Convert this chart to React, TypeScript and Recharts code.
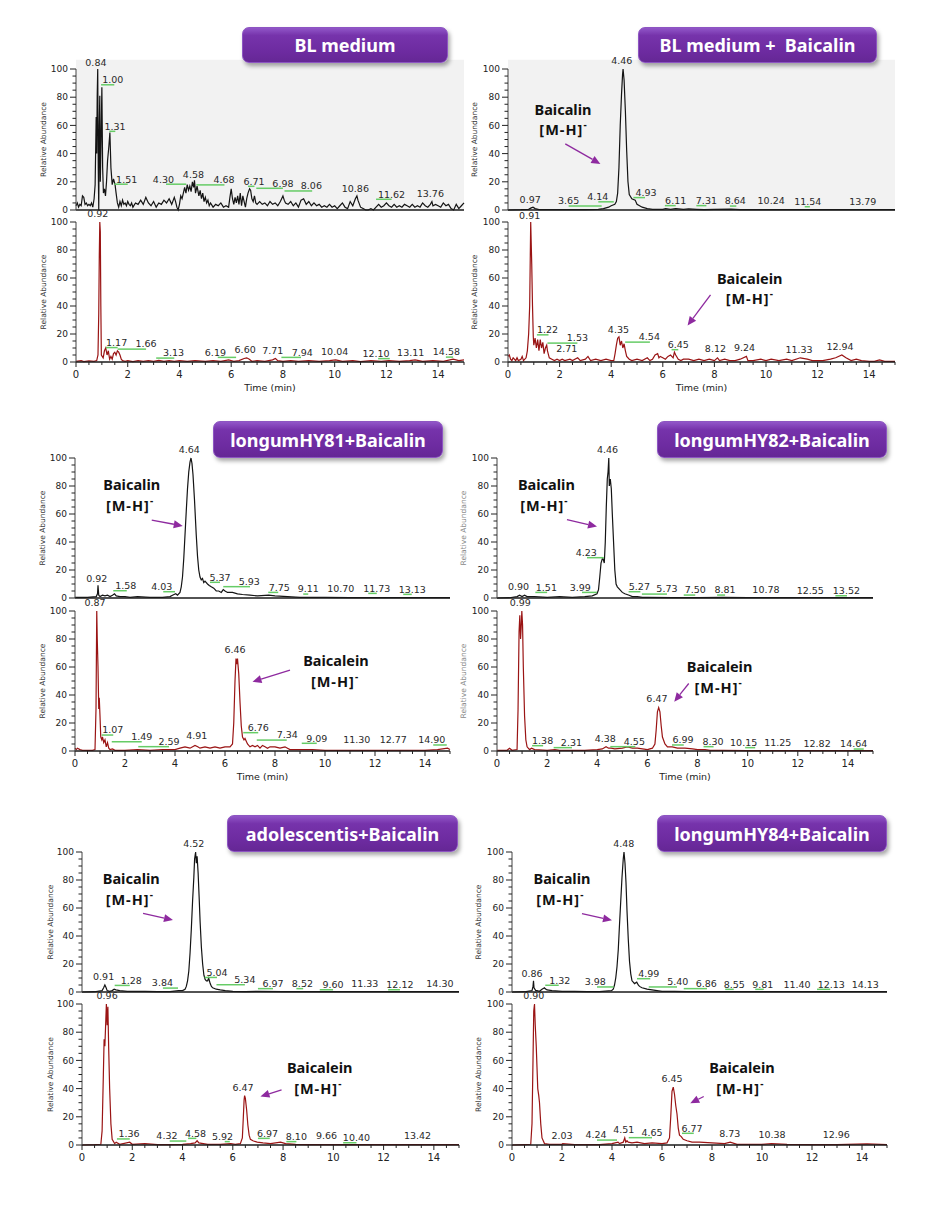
import React from 'react'
import { ComposedChart, Line, XAxis, YAxis, ReferenceDot, ReferenceLine, ReferenceArea } from 'recharts'

type Pt = [number, number]
// [peak time, label x, label baseline y, green leader from, green leader to]
type Peak = [number, number, number, number?, number?]
type Note = { name: string; x: number; y: number; ionX: number; ionY: number; arrow: [number, number, number, number] }

const xMajor = [0, 2, 4, 6, 8, 10, 12, 14]
const xTicks = Array.from({ length: 31 }, (_, i) => i / 2)
const yMajor = [0, 20, 40, 60, 80, 100]
const yTicks = Array.from({ length: 21 }, (_, i) => i * 5)

// ---- BL medium ----
const blTop: Pt[] = [
  [0, 3], [0.05, 5], [0.1, 2], [0.15, 4], [0.2, 3], [0.25, 10], [0.3, 9], [0.35, 4], [0.4, 5], [0.45, 3], [0.5, 4], [0.55, 3], [0.6, 5], [0.65, 2],
  [0.7, 8], [0.74, 18], [0.78, 66], [0.8, 40], [0.82, 81], [0.84, 100], [0.86, 30], [0.88, 0], [0.9, 60], [0.92, 81], [0.94, 20], [0.97, 50],
  [1.0, 87], [1.03, 30], [1.06, 12], [1.1, 15], [1.14, 10], [1.18, 20], [1.22, 35], [1.27, 45], [1.31, 55], [1.35, 30], [1.4, 18], [1.45, 22],
  [1.51, 18], [1.55, 12], [1.6, 5], [1.65, 2], [1.7, 6], [1.75, 3], [1.8, 7], [1.85, 4], [1.9, 5], [1.95, 3], [2.0, 6], [2.05, 4], [2.1, 3],
  [2.15, 5], [2.2, 2], [2.3, 5], [2.4, 4], [2.5, 7], [2.6, 4], [2.7, 9], [2.75, 7], [2.8, 5], [2.9, 3], [3.0, 6], [3.1, 2], [3.2, 5], [3.3, 4],
  [3.4, 7], [3.5, 5], [3.6, 8], [3.7, 4], [3.8, 9], [3.85, 6], [3.9, 2], [3.95, 0], [4.0, 4], [4.05, 10], [4.1, 8], [4.15, 12], [4.2, 16],
  [4.25, 12], [4.3, 18], [4.35, 14], [4.4, 17], [4.45, 13], [4.5, 20], [4.55, 16], [4.58, 21], [4.62, 12], [4.68, 17], [4.75, 10], [4.8, 14],
  [4.85, 8], [4.9, 12], [4.95, 6], [5.0, 9], [5.05, 5], [5.1, 7], [5.15, 3], [5.2, 5], [5.3, 2], [5.4, 4], [5.5, 3], [5.6, 5], [5.7, 2],
  [5.8, 3], [5.9, 2], [5.95, 9], [6.0, 15], [6.05, 8], [6.1, 4], [6.15, 9], [6.2, 5], [6.25, 10], [6.3, 4], [6.35, 12], [6.4, 3], [6.45, 10],
  [6.5, 6], [6.55, 2], [6.6, 8], [6.65, 12], [6.71, 15], [6.75, 14], [6.8, 8], [6.85, 6], [6.9, 10], [6.95, 5], [7.0, 4], [7.1, 6], [7.2, 4],
  [7.3, 5], [7.4, 3], [7.5, 6], [7.6, 4], [7.7, 5], [7.8, 3], [7.9, 6], [7.95, 8], [8.0, 10], [8.05, 7], [8.1, 5], [8.2, 4], [8.3, 6], [8.4, 3],
  [8.5, 5], [8.6, 2], [8.7, 7], [8.8, 8], [8.85, 6], [8.9, 4], [9.0, 6], [9.1, 3], [9.2, 5], [9.3, 3], [9.4, 4], [9.5, 2], [9.6, 3], [9.7, 2],
  [9.8, 4], [9.9, 2], [10.0, 3], [10.1, 1], [10.2, 3], [10.3, 5], [10.4, 2], [10.5, 1], [10.6, 6], [10.7, 3], [10.8, 8], [10.86, 10], [10.9, 7],
  [11.0, 2], [11.1, 1], [11.2, 0], [11.3, 0], [11.4, 1], [11.5, 0], [11.6, 2], [11.7, 4], [11.8, 2], [11.9, 3], [12.0, 5], [12.1, 3], [12.2, 2],
  [12.3, 4], [12.4, 2], [12.5, 3], [12.6, 2], [12.7, 4], [12.8, 3], [12.9, 2], [13.0, 4], [13.1, 2], [13.2, 3], [13.3, 2], [13.4, 5], [13.5, 3],
  [13.6, 2], [13.7, 4], [13.76, 6], [13.8, 3], [13.9, 4], [14.0, 3], [14.1, 2], [14.2, 5], [14.3, 3], [14.4, 4], [14.5, 1], [14.6, 0], [14.7, 4],
  [14.8, 1], [14.9, 3], [15, 5],
]
const blBot: Pt[] = [
  [0, 0.5], [0.2, 1], [0.3, 0.3], [0.5, 0.8], [0.7, 0.5], [0.8, 1], [0.85, 5], [0.88, 35], [0.9, 75], [0.92, 100], [0.94, 93], [0.96, 40],
  [0.98, 5], [1.05, 3], [1.1, 8], [1.15, 10], [1.2, 5], [1.25, 8], [1.3, 2], [1.35, 4], [1.4, 2], [1.45, 6], [1.5, 7], [1.55, 5], [1.6, 8],
  [1.65, 7], [1.7, 5], [1.75, 2], [1.8, 1], [1.9, 0.5], [2.0, 1], [2.2, 0.3], [2.4, 1], [2.6, 0.4], [2.8, 1], [3.0, 0.5], [3.2, 1.2], [3.4, 0.5],
  [3.6, 1], [3.8, 0.4], [4.0, 1], [4.3, 0.5], [4.6, 1], [5.0, 0.5], [5.3, 1], [5.6, 0.5], [5.9, 1.5], [6.1, 0.5], [6.3, 1], [6.5, 2.5], [6.6, 3],
  [6.7, 2], [6.8, 0.5], [7.0, 1], [7.3, 0.5], [7.6, 1.5], [7.71, 2.5], [7.8, 1], [8.0, 0.5], [8.3, 1], [8.6, 0.5], [9.0, 1], [9.4, 0.5], [9.8, 1],
  [10.04, 1.5], [10.3, 0.5], [10.7, 1], [11.0, 0.3], [11.4, 1], [11.8, 0.5], [12.1, 1], [12.5, 0.5], [12.9, 1], [13.11, 1.5], [13.4, 0.5],
  [13.8, 1], [14.2, 0.5], [14.58, 2], [14.8, 1], [15, 1.5],
]
const blTopPeaks: Peak[] = [
  [0.84, 0.77, 102], [1.0, 1.42, 90, 0.97, 1.48], [1.31, 1.51, 57, 1.29, 1.52], [1.51, 1.96, 19.5, 1.48, 2.0], [4.3, 3.38, 19.5, 3.48, 4.26],
  [4.58, 4.54, 23], [4.68, 5.72, 19, 4.65, 5.74], [6.71, 6.88, 18, 6.65, 6.9], [6.98, 8.0, 16.6, 6.97, 8.0], [8.06, 9.1, 14.7, 8.06, 9.13],
  [10.86, 10.8, 13], [11.62, 12.2, 8.8, 11.6, 12.2], [13.76, 13.7, 9.5],
]
const blBotPeaks: Peak[] = [
  [0.92, 0.84, 103.5], [1.17, 1.57, 11.5, 1.16, 1.61], [1.66, 2.71, 10.4, 1.61, 2.71], [3.13, 3.77, 4, 3.1, 3.8], [6.19, 5.39, 4.5, 5.48, 6.19],
  [6.6, 6.54, 6.4], [7.71, 7.61, 5.7], [7.94, 8.75, 4.5, 7.94, 8.7], [10.04, 10.0, 5.2], [12.1, 11.6, 3.6, 11.68, 12.13], [13.11, 12.94, 4],
  [14.58, 14.32, 4.7, 14.3, 14.58],
]

// ---- BL medium + Baicalin ----
const bcTop: Pt[] = [
  [0, 0], [0.5, 0.2], [0.8, 0.5], [0.9, 1.5], [0.97, 2], [1.05, 1], [1.2, 0.3], [2, 0.2], [3, 0.3], [3.5, 0.5], [3.7, 1], [3.9, 2], [4.0, 3],
  [4.14, 4], [4.2, 6], [4.25, 12], [4.3, 30], [4.35, 60], [4.4, 82], [4.44, 96], [4.46, 100], [4.5, 92], [4.55, 70], [4.6, 42], [4.65, 20],
  [4.7, 11], [4.8, 8], [4.93, 7], [5.0, 4], [5.1, 3], [5.2, 2], [5.4, 1], [5.6, 0.5], [6.0, 0.5], [6.11, 1], [6.3, 0.5], [6.5, 1], [6.8, 0.5],
  [7.0, 0.8], [7.31, 0.5], [7.6, 0.3], [8.0, 0.5], [8.64, 0.6], [9, 0.3], [10, 0.3], [11, 0.2], [12, 0.2], [13, 0.2], [14, 0.2], [15, 0.2],
]
const bcBot: Pt[] = [
  [0, 4], [0.05, 5], [0.1, 2], [0.15, 1], [0.2, 3], [0.3, 1], [0.35, 3], [0.4, 1], [0.5, 2], [0.55, 4], [0.6, 1], [0.7, 3], [0.75, 8], [0.8, 20],
  [0.84, 40], [0.88, 100], [0.92, 70], [0.95, 40], [0.98, 18], [1.0, 12], [1.05, 17], [1.1, 10], [1.15, 16], [1.2, 8], [1.25, 16], [1.3, 10],
  [1.35, 14], [1.4, 6], [1.45, 10], [1.5, 12], [1.53, 8], [1.6, 3], [1.7, 2], [1.8, 1], [1.9, 2], [2.0, 1], [2.1, 2], [2.2, 1], [2.4, 2], [2.5, 1],
  [2.7, 3], [2.75, 2], [2.8, 1], [3.0, 2], [3.1, 4], [3.2, 1], [3.4, 2], [3.6, 1], [3.8, 2], [4.0, 1], [4.1, 1], [4.15, 6], [4.2, 12], [4.25, 17],
  [4.3, 18], [4.35, 12], [4.4, 15], [4.45, 10], [4.5, 13], [4.55, 8], [4.6, 4], [4.7, 2], [4.8, 1], [5.0, 2], [5.2, 1], [5.4, 3], [5.5, 1],
  [5.6, 2], [5.7, 5], [5.8, 6], [5.85, 3], [5.9, 4], [6.0, 3], [6.1, 2], [6.2, 4], [6.3, 5], [6.4, 3], [6.45, 7], [6.5, 5], [6.6, 2], [6.7, 1],
  [6.8, 2], [7.0, 2], [7.2, 1], [7.4, 2], [7.6, 1], [7.8, 2], [8.0, 1], [8.12, 3], [8.2, 1], [8.4, 2], [8.6, 1], [8.8, 1], [9.0, 2], [9.24, 4],
  [9.3, 1], [9.5, 1], [9.8, 2], [10.0, 1], [10.2, 2], [10.5, 1], [10.8, 2], [11.0, 1], [11.33, 3], [11.6, 2], [11.8, 1], [12.0, 1], [12.2, 1],
  [12.5, 2], [12.7, 3], [12.94, 5], [13.1, 3], [13.3, 1], [13.5, 2], [13.7, 1], [14.0, 0.5], [14.2, 0.5], [14.4, 1.5], [14.6, 0.5], [15, 0.5],
]
const bcTopPeaks: Peak[] = [
  [0.97, 0.86, 4.7], [3.65, 2.35, 4, 2.35, 3.63], [4.14, 3.48, 7, 3.5, 4.1], [4.46, 4.41, 103.5], [4.93, 5.35, 10, 4.86, 5.31],
  [6.11, 6.5, 4.3, 6.08, 6.5], [7.31, 7.69, 4.3, 7.3, 7.69], [8.64, 8.81, 4, 8.6, 8.85], [10.24, 10.2, 4], [11.54, 11.62, 3.5, 11.5, 11.7],
  [13.79, 13.75, 3.5],
]
const bcBotPeaks: Peak[] = [
  [0.91, 0.84, 102.4], [1.22, 1.53, 20.6, 1.12, 1.57], [1.53, 2.69, 14.7, 1.53, 2.69], [2.71, 2.28, 6.9], [4.35, 4.28, 20.6],
  [4.54, 5.48, 15.4, 4.54, 5.5], [6.45, 6.6, 10, 6.34, 6.6], [8.12, 8.04, 7], [9.24, 9.17, 8], [11.33, 11.28, 6.4], [12.94, 12.87, 8.8],
]
const bcTopNote: Note = { name: 'Baicalin', x: 2.13, y: 67.5, ionX: 2.15, ionY: 53.3, arrow: [2.22, 46.9, 3.58, 32.7] }
const bcBotNote: Note = { name: 'Baicalein', x: 9.37, y: 56, ionX: 9.37, ionY: 41.5, arrow: [7.85, 48, 6.96, 26] }

// ---- longumHY81 + Baicalin ----
const h81Top: Pt[] = [
  [0, 0.5], [0.5, 0.5], [0.85, 1], [0.9, 3], [0.92, 9], [0.95, 2], [1.0, 1], [1.1, 2], [1.2, 1.5], [1.3, 2], [1.4, 1], [1.5, 2], [1.58, 3],
  [1.65, 1.5], [1.8, 1], [2.0, 1], [2.2, 0.5], [2.5, 1], [3.0, 0.5], [3.5, 0.5], [3.8, 1], [3.9, 2], [4.03, 3], [4.1, 2], [4.2, 4], [4.25, 8],
  [4.3, 15], [4.35, 28], [4.4, 45], [4.45, 62], [4.5, 78], [4.55, 90], [4.6, 97], [4.64, 100], [4.68, 96], [4.72, 88], [4.78, 70], [4.85, 45],
  [4.9, 30], [4.95, 20], [5.0, 15], [5.05, 13], [5.1, 14], [5.15, 11], [5.2, 12], [5.3, 10], [5.37, 9], [5.45, 8], [5.55, 7], [5.65, 5],
  [5.75, 5], [5.85, 4], [5.93, 6], [6.0, 5], [6.1, 4], [6.3, 4], [6.5, 3], [6.7, 2.5], [7.0, 2], [7.3, 1.5], [7.75, 2], [8.0, 1.5], [8.5, 1],
  [9.0, 0.5], [10, 0.5], [11, 0.3], [12, 0.3], [13, 0.3], [14, 0.2], [15, 0.2],
]
const h81Bot: Pt[] = [
  [0, 2], [0.05, 1], [0.1, 2], [0.2, 1], [0.3, 0.5], [0.5, 0.5], [0.7, 0.5], [0.8, 1], [0.84, 30], [0.87, 100], [0.89, 80], [0.92, 60],
  [0.95, 30], [0.97, 38], [1.0, 25], [1.03, 10], [1.07, 8], [1.1, 10], [1.15, 6], [1.2, 8], [1.25, 3], [1.3, 6], [1.35, 2], [1.4, 1], [1.5, 1.5],
  [1.6, 0.5], [2.0, 0.5], [2.5, 1], [3.0, 0.5], [3.5, 1], [4.0, 1], [4.2, 2], [4.4, 3], [4.6, 2], [4.8, 4], [4.91, 3], [5.0, 2], [5.2, 3],
  [5.4, 2], [5.6, 3], [5.8, 2], [6.0, 3], [6.2, 3], [6.3, 5], [6.35, 20], [6.4, 50], [6.44, 66], [6.47, 62], [6.5, 66], [6.55, 55], [6.6, 35],
  [6.65, 18], [6.7, 10], [6.76, 8], [6.8, 9], [6.9, 5], [7.0, 3], [7.1, 4], [7.2, 3], [7.3, 4], [7.4, 2], [7.5, 4], [7.6, 3], [7.7, 2], [7.8, 3],
  [8.0, 3], [8.2, 2], [8.4, 3], [8.5, 2], [8.6, 1], [9.0, 1], [9.5, 1], [10.0, 0.5], [11.0, 0.5], [12.0, 0.5], [13.0, 0.5], [14.0, 0.5],
  [14.5, 1], [14.9, 2], [15, 1],
]
const h81TopPeaks: Peak[] = [
  [0.92, 0.87, 11.6], [1.58, 2.03, 6.4, 1.53, 2.07], [4.03, 3.47, 5.7, 3.53, 4.0], [4.64, 4.57, 103.5], [5.37, 5.8, 12.4, 5.4, 5.8],
  [5.93, 6.97, 9.3, 5.93, 7.0], [7.75, 8.17, 5.2, 7.73, 8.13], [9.11, 9.33, 4, 9.13, 9.33], [10.7, 10.63, 4.5], [11.73, 12.07, 4.5, 11.73, 12.07],
  [13.13, 13.49, 3.8, 13.13, 13.47],
]
const h81BotPeaks: Peak[] = [
  [0.87, 0.8, 103.6], [1.07, 1.51, 12.6, 1.07, 1.53], [1.49, 2.67, 7.8, 1.47, 2.67], [2.59, 3.76, 4.3, 2.53, 3.76], [4.91, 4.87, 8.6],
  [6.46, 6.4, 70], [6.76, 7.33, 14.3, 6.73, 7.33], [7.34, 8.49, 9, 7.27, 8.47], [9.09, 9.67, 6.7, 9.07, 9.67], [11.3, 11.27, 6],
  [12.77, 12.73, 5.5], [14.9, 14.27, 5.5, 14.33, 14.87],
]
const h81TopNote: Note = { name: 'Baicalin', x: 2.27, y: 77, ionX: 2.2, ionY: 62.5, arrow: [3.07, 55.6, 4.31, 51.5] }
const h81BotNote: Note = { name: 'Baicalein', x: 10.44, y: 60.5, ionX: 10.4, ionY: 45.8, arrow: [8.6, 57.7, 7.1, 49.4] }

// ---- longumHY82 + Baicalin ----
const h82Top: Pt[] = [
  [0, 0], [0.5, 0.2], [0.8, 1], [0.9, 2], [1.0, 1], [1.1, 2], [1.2, 1], [1.5, 1], [2.0, 0.5], [2.5, 1], [3.0, 0.5], [3.5, 1], [3.8, 1.5],
  [3.99, 3], [4.05, 6], [4.1, 15], [4.15, 25], [4.2, 28], [4.23, 28], [4.28, 25], [4.32, 40], [4.36, 65], [4.4, 85], [4.43, 90], [4.46, 100],
  [4.48, 80], [4.52, 85], [4.56, 78], [4.6, 60], [4.65, 40], [4.7, 20], [4.75, 10], [4.8, 8], [4.9, 6], [5.0, 4], [5.1, 3], [5.27, 2], [5.4, 1],
  [5.6, 1], [5.8, 0.5], [6.0, 0.5], [7, 0.3], [8, 0.3], [9, 0.5], [10, 0.2], [12, 0.2], [15, 0.2],
]
const h82Bot: Pt[] = [
  [0, 0.5], [0.4, 0.5], [0.5, 2], [0.6, 0.5], [0.8, 1], [0.84, 30], [0.88, 85], [0.91, 97], [0.94, 80], [0.97, 90], [0.99, 100], [1.02, 90],
  [1.05, 60], [1.1, 25], [1.15, 8], [1.2, 3], [1.3, 1], [1.38, 2], [1.5, 1], [2.0, 0.5], [2.31, 1], [2.5, 0.5], [3.0, 0.5], [3.5, 0.5], [4.0, 1],
  [4.2, 1.5], [4.35, 3], [4.45, 2], [4.55, 2], [4.7, 1.5], [5.0, 2], [5.2, 3], [5.4, 2], [5.6, 2], [5.8, 1.5], [6.0, 1], [6.2, 2], [6.3, 5],
  [6.35, 15], [6.4, 28], [6.45, 31], [6.5, 28], [6.55, 18], [6.6, 10], [6.7, 5], [6.8, 3], [6.99, 3], [7.2, 2], [7.5, 2], [7.8, 1.5], [8.0, 1],
  [8.3, 1], [8.5, 0.5], [9, 0.5], [10, 0.3], [11, 0.3], [12, 0.3], [13, 0.3], [14, 0.3], [15, 0.3],
]
const h82TopPeaks: Peak[] = [
  [0.9, 0.86, 5.7], [1.51, 1.97, 5.2, 1.53, 2.0], [3.99, 3.32, 5.2, 3.39, 3.99], [4.23, 3.56, 30, 3.59, 4.26], [4.46, 4.41, 103.5],
  [5.27, 5.68, 5.7, 5.25, 5.72], [5.73, 6.78, 4, 5.78, 6.78], [7.5, 7.91, 3.3, 7.45, 7.91], [8.81, 9.1, 3.3, 8.78, 9.1], [10.78, 10.73, 3.3],
  [12.55, 12.5, 2.8], [13.52, 13.94, 2.8, 13.5, 13.96],
]
const h82BotPeaks: Peak[] = [
  [0.99, 0.93, 103.6], [1.38, 1.82, 5, 1.4, 1.84], [2.31, 2.97, 3.6, 2.26, 2.99], [4.38, 4.32, 6.7], [4.55, 5.48, 4.3, 4.52, 5.52],
  [6.47, 6.38, 35], [6.99, 7.42, 5.5, 6.98, 7.45], [8.3, 8.62, 4.3, 8.24, 8.64], [10.15, 9.84, 3.6, 9.9, 10.3], [11.25, 11.2, 3.6],
  [12.82, 12.77, 2.6], [14.64, 14.23, 2.6, 14.23, 14.63],
]
const h82TopNote: Note = { name: 'Baicalin', x: 1.97, y: 77, ionX: 1.89, ionY: 62.5, arrow: [2.79, 56, 3.99, 51] }
const h82BotNote: Note = { name: 'Baicalein', x: 8.88, y: 56.5, ionX: 8.84, ionY: 41.5, arrow: [7.65, 48.2, 7.07, 35.2] }

// ---- adolescentis + Baicalin ----
const adoTop: Pt[] = [
  [0, 0], [0.5, 0.2], [0.8, 1], [0.86, 3], [0.91, 5], [0.96, 3], [1.0, 1], [1.1, 0.5], [1.2, 1], [1.28, 2], [1.35, 1.5], [1.5, 1], [1.8, 0.5],
  [2.5, 0.5], [3.0, 0.3], [3.5, 0.3], [3.84, 1], [4.0, 1], [4.1, 2], [4.15, 4], [4.2, 8], [4.25, 15], [4.3, 28], [4.35, 45], [4.4, 65],
  [4.45, 82], [4.48, 95], [4.52, 100], [4.55, 92], [4.58, 97], [4.62, 85], [4.66, 68], [4.7, 50], [4.75, 32], [4.8, 20], [4.85, 12], [4.9, 9],
  [4.95, 8], [5.0, 8], [5.04, 10], [5.1, 6], [5.15, 4], [5.2, 3], [5.34, 2], [5.5, 1.5], [5.7, 1], [6.0, 0.5], [6.5, 0.3], [7, 0.5], [8, 0.3],
  [9, 0.2], [10, 0.2], [12, 0.2], [15, 0.2],
]
const adoBot: Pt[] = [
  [0, 0], [0.5, 0.2], [0.75, 0.5], [0.8, 10], [0.85, 50], [0.88, 75], [0.91, 70], [0.94, 85], [0.97, 100], [1.0, 85], [1.03, 98], [1.06, 70],
  [1.1, 40], [1.15, 15], [1.2, 4], [1.3, 1], [1.36, 2], [1.5, 0.5], [1.9, 2], [2.0, 0.5], [2.5, 1], [3.0, 0.3], [3.5, 0.3], [4.0, 0.5],
  [4.32, 1], [4.5, 1.5], [4.58, 3], [4.65, 1.5], [5.0, 0.5], [5.5, 0.5], [5.92, 1], [6.1, 0.5], [6.3, 1], [6.38, 5], [6.42, 20], [6.45, 32],
  [6.47, 35], [6.5, 33], [6.55, 25], [6.6, 14], [6.65, 7], [6.7, 4], [6.8, 3], [6.97, 2], [7.2, 1.5], [7.5, 1], [7.9, 2], [8.1, 1], [8.5, 0.5],
  [9, 0.3], [10, 0.3], [12, 0.2], [15, 0.2],
]
const adoTopPeaks: Peak[] = [
  [0.91, 0.86, 8.8], [1.28, 1.96, 5.9, 1.3, 1.9], [3.84, 3.2, 4, 3.22, 3.82], [4.52, 4.45, 103.3], [5.04, 5.37, 11.6, 4.88, 5.37],
  [5.34, 6.48, 6.4, 5.35, 6.48], [6.97, 7.6, 3.6, 7.0, 7.6], [8.52, 8.77, 3.6, 8.53, 8.8], [9.6, 9.99, 2.8, 9.46, 9.99], [11.33, 11.25, 3.6],
  [12.12, 12.65, 2.8, 12.18, 12.65], [14.3, 14.24, 3.6],
]
const adoBotPeaks: Peak[] = [
  [0.96, 1.0, 103.5], [1.36, 1.87, 5.5, 1.39, 1.9], [4.32, 3.38, 4, 3.49, 4.15], [4.58, 4.52, 5.9, 4.22, 4.55], [5.92, 5.59, 3.6, 5.68, 5.88],
  [6.47, 6.41, 38.6], [6.97, 7.38, 5.9, 7.0, 7.47], [8.1, 8.53, 3.6, 8.13, 8.53], [9.66, 9.73, 4], [10.4, 10.92, 2.8, 10.39, 10.92],
  [13.42, 13.35, 4],
]
const adoTopNote: Note = { name: 'Baicalin', x: 1.96, y: 77, ionX: 1.9, ionY: 62.5, arrow: [2.43, 56.2, 3.62, 51.4] }
const adoBotNote: Note = { name: 'Baicalein', x: 9.46, y: 51, ionX: 9.4, ionY: 36.5, arrow: [7.94, 39.1, 7.1, 34.4] }

// ---- longumHY84 + Baicalin ----
const h84Top: Pt[] = [
  [0, 0], [0.5, 0.2], [0.8, 1], [0.84, 4], [0.86, 8], [0.88, 3], [0.95, 1], [1.0, 1], [1.1, 0.5], [1.2, 2], [1.3, 3], [1.32, 2.5], [1.4, 1.5],
  [1.6, 1], [2.0, 0.5], [2.5, 0.5], [3.0, 0.3], [3.5, 0.3], [3.98, 1], [4.05, 2], [4.1, 5], [4.15, 10], [4.2, 18], [4.25, 30], [4.3, 48],
  [4.35, 65], [4.4, 82], [4.45, 95], [4.48, 100], [4.52, 92], [4.56, 78], [4.6, 58], [4.65, 38], [4.7, 22], [4.75, 13], [4.8, 8], [4.85, 7],
  [4.9, 6], [4.99, 7], [5.05, 5], [5.1, 4], [5.2, 3], [5.4, 2], [5.6, 1.5], [5.8, 1], [6.0, 0.5], [6.5, 0.4], [7, 0.3], [8, 0.2], [9, 0.3],
  [10, 0.2], [12, 0.2], [15, 0.2],
]
const h84Bot: Pt[] = [
  [0, 0], [0.5, 0.3], [0.75, 0.5], [0.8, 15], [0.84, 60], [0.87, 95], [0.9, 100], [0.93, 85], [0.97, 70], [1.0, 55], [1.03, 40], [1.07, 35],
  [1.1, 30], [1.15, 15], [1.2, 5], [1.3, 1], [1.5, 0.5], [2.0, 0.5], [2.03, 1], [2.5, 0.3], [3.0, 0.3], [3.5, 0.3], [4.0, 1], [4.24, 2],
  [4.3, 1], [4.45, 2], [4.51, 5], [4.55, 2], [4.6, 3], [4.65, 2], [4.8, 1.5], [5.0, 2], [5.3, 1], [5.6, 1.5], [6.0, 1], [6.2, 1.5], [6.3, 5],
  [6.35, 20], [6.4, 38], [6.45, 41], [6.5, 36], [6.55, 28], [6.6, 22], [6.65, 12], [6.7, 7], [6.77, 6], [6.85, 4], [7.0, 3], [7.2, 2],
  [7.5, 2], [8.0, 1.5], [8.5, 1], [8.73, 2], [9.0, 0.5], [9.5, 0.5], [10, 0.5], [10.38, 1], [11, 0.5], [12, 0.3], [13, 0.3], [14.2, 0.8],
  [15, 0.3],
]
const h84TopPeaks: Peak[] = [
  [0.86, 0.8, 10.7], [1.32, 1.91, 6, 1.33, 1.87], [3.98, 3.33, 4.8, 3.4, 4.07], [4.48, 4.47, 103.6], [4.99, 5.47, 10.7, 5.0, 5.53],
  [5.4, 6.63, 4.8, 5.47, 6.6], [6.86, 7.77, 3.6, 6.87, 7.8], [8.55, 8.89, 3.1, 8.53, 8.87], [9.81, 10.03, 3.1, 9.73, 10.07],
  [11.4, 11.4, 3.1], [12.13, 12.77, 3.1, 12.2, 12.73], [14.13, 14.13, 3.1],
]
const h84BotPeaks: Peak[] = [
  [0.9, 0.87, 103.6], [2.03, 2.0, 4], [4.24, 3.36, 4.7, 3.4, 4.2], [4.51, 4.47, 8.3], [4.65, 5.6, 6.4, 4.67, 5.6], [6.45, 6.4, 45],
  [6.77, 7.2, 9.5, 6.8, 7.27], [8.73, 8.71, 5.9], [10.38, 10.4, 4.7], [12.96, 12.97, 4.7],
]
const h84TopNote: Note = { name: 'Baicalin', x: 2.0, y: 76.9, ionX: 1.93, ionY: 62.4, arrow: [2.8, 56, 4.0, 51.2] }
const h84BotNote: Note = { name: 'Baicalein', x: 9.2, y: 51, ionX: 9.13, ionY: 36.5, arrow: [7.67, 34.4, 7.13, 29.6] }

const NUM_FONT = '"DejaVu Sans", Verdana, sans-serif'
const BLACK = '#141414'
const RED = '#9a1414'
const GREEN = '#66cc66'
const PURPLE = '#8e2a9f'

const Arrow = (p: any) => {
  const { x1, y1, x2, y2 } = p
  const a = Math.atan2(y2 - y1, x2 - x1)
  const L = 9
  const W = 4
  const bx = x2 - L * Math.cos(a)
  const by = y2 - L * Math.sin(a)
  const pts = `${x2},${y2} ${bx + W * Math.sin(a)},${by - W * Math.cos(a)} ${bx - W * Math.sin(a)},${by + W * Math.cos(a)}`
  return (
    <g>
      <line x1={x1} y1={y1} x2={bx} y2={by} stroke={PURPLE} strokeWidth={1.3} />
      <polygon points={pts} fill={PURPLE} />
    </g>
  )
}

const XTick = ({ x, y, payload, showText }: any) => {
  const v = payload.value
  const major = xMajor.includes(v)
  return (
    <g>
      <line x1={x} y1={y} x2={x} y2={y + (major ? 5 : 3)} stroke="#222" strokeWidth={1} />
      {showText && major && (
        <text x={x} y={y + 16} textAnchor="middle" fontSize={10} fontFamily={NUM_FONT} fill="#222">{v}</text>
      )}
    </g>
  )
}

const YTick = ({ x, y, payload }: any) => {
  const v = payload.value
  const major = yMajor.includes(v)
  return (
    <g>
      <line x1={x - (major ? 6 : 3.5)} y1={y} x2={x} y2={y} stroke="#222" strokeWidth={1} />
      {major && (
        <text x={x - 8} y={y + 3.2} textAnchor="end" fontSize={9} fontFamily={NUM_FONT} fill="#222">{v}</text>
      )}
    </g>
  )
}

type Geo = { l: number; r: number; t: number; b: number }

function Chromatogram(props: {
  g: Geo
  data: Pt[]
  peaks: Peak[]
  color: string
  bottomAxis?: boolean
  timeTitle?: boolean
  grey?: boolean
  yLabelX?: number
  rightLabel?: boolean
  note?: Note
}) {
  const { g, data, peaks, color, bottomAxis, timeTitle, grey, yLabelX, rightLabel, note } = props
  const YW = 48
  const MT = 16
  const MR = 20
  const XH = bottomAxis ? 36 : 8
  const width = YW + (g.r - g.l) + MR
  const height = MT + (g.b - g.t) + XH
  const rows = data.map(([x, y]) => ({ x, y }))
  const labelStyle = { fontSize: 7.5, fontFamily: NUM_FONT, fill: '#333', textAnchor: 'middle' as const }
  const noteFont = '"Noto Sans", sans-serif'

  return (
    <div style={{ position: 'absolute', left: g.l - YW, top: g.t - MT, width, height }}>
      <ComposedChart width={width} height={height} data={rows} margin={{ top: MT, right: MR, bottom: 0, left: 0 }}>
        {grey && (
          <ReferenceArea x1={0} x2={15} y1={0} y2={106.5} fill="#f2f2f2" fillOpacity={1} stroke="none" ifOverflow="visible" />
        )}
        <XAxis
          type="number"
          dataKey="x"
          domain={[0, 15]}
          ticks={xTicks}
          interval={0}
          height={XH}
          tickSize={0}
          tickMargin={0}
          tickLine={false}
          tick={bottomAxis ? (p: any) => <XTick {...p} showText /> : false}
          axisLine={{ stroke: '#1a1a1a', strokeWidth: 1.6 }}
          label={timeTitle ? { value: 'Time (min)', position: 'insideBottom', offset: 7, style: { fontSize: 9.5, fontFamily: NUM_FONT, fill: '#222' } } : undefined}
        />
        <YAxis
          type="number"
          domain={[0, 100]}
          ticks={yTicks}
          interval={0}
          width={YW}
          tickSize={0}
          tickMargin={0}
          tickLine={false}
          tick={(p: any) => <YTick {...p} />}
          axisLine={{ stroke: '#444', strokeWidth: 1 }}
          label={yLabelX != null ? { value: 'Relative Abundance', angle: -90, position: 'insideLeft', offset: yLabelX - g.l + YW, style: labelStyle } : undefined}
        />
        <Line dataKey="y" type="linear" stroke={color} strokeWidth={1.2} dot={false} activeDot={false} isAnimationActive={false} />
        {peaks.filter((p) => p[3] != null).map(([t, , ly, g1, g2]) => (
          <ReferenceLine
            key={'g' + t}
            segment={[{ x: g1 as number, y: ly - 1.2 }, { x: g2 as number, y: ly - 1.2 }]}
            stroke={GREEN}
            strokeWidth={1.5}
            ifOverflow="visible"
          />
        ))}
        {peaks.map(([t, lx, ly]) => (
          <ReferenceDot
            key={'p' + t}
            x={lx}
            y={ly}
            ifOverflow="visible"
            shape={(p: any) => (
              <text x={p.cx} y={p.cy} textAnchor="middle" fontSize={9.5} fontFamily={NUM_FONT} fill="#2a2a2a">{t.toFixed(2)}</text>
            )}
          />
        ))}
        {note && (
          <ReferenceDot
            x={note.x}
            y={note.y}
            ifOverflow="visible"
            shape={(p: any) => (
              <text x={p.cx} y={p.cy} textAnchor="middle" fontSize={14.5} fontWeight="bold" fontFamily={noteFont} fill="#111">{note.name}</text>
            )}
          />
        )}
        {note && (
          <ReferenceDot
            x={note.ionX}
            y={note.ionY}
            ifOverflow="visible"
            shape={(p: any) => (
              <text x={p.cx} y={p.cy} textAnchor="middle" fontSize={14.5} fontWeight="bold" letterSpacing={1} fontFamily={noteFont} fill="#111">
                [M-H]<tspan dy={-7} fontSize={10}>-</tspan>
              </text>
            )}
          />
        )}
        {note && (
          <ReferenceLine
            segment={[{ x: note.arrow[0], y: note.arrow[1] }, { x: note.arrow[2], y: note.arrow[3] }]}
            ifOverflow="visible"
            shape={(p: any) => <Arrow {...p} />}
          />
        )}
        {rightLabel && (
          <ReferenceDot
            x={15}
            y={50}
            ifOverflow="visible"
            shape={(p: any) => (
              <text x={p.cx + 13} y={p.cy} transform={`rotate(-90 ${p.cx + 13} ${p.cy})`} textAnchor="middle" dy={3} fontSize={7.5} fontFamily={NUM_FONT} fill="#888">
                Relative Abundance
              </text>
            )}
          />
        )}
      </ComposedChart>
    </div>
  )
}

const Badge = ({ text, x, y, w, h }: { text: string; x: number; y: number; w: number; h: number }) => (
  <div
    style={{
      position: 'absolute',
      left: x,
      top: y,
      width: w,
      height: h,
      boxSizing: 'border-box',
      borderRadius: 7,
      border: '1px solid #8d55c2',
      background: 'linear-gradient(180deg, #9156c8 0%, #7633ab 22%, #6d2ba0 70%, #652795 100%)',
      boxShadow: '2px 3px 4px rgba(0,0,0,0.35)',
      color: '#fff',
      fontFamily: '"Noto Sans", sans-serif',
      fontWeight: 700,
      fontSize: 18,
      display: 'flex',
      alignItems: 'center',
      justifyContent: 'center',
      whiteSpace: 'pre',
      zIndex: 5,
    }}
  >
    {text}
  </div>
)

export default function App() {
  return (
    <div style={{ position: 'absolute', left: 0, top: 0, width: 926, height: 1219, background: '#fff', overflow: 'hidden' }}>
      {/* row 1 */}
      <Chromatogram g={{ l: 76, r: 464, t: 69, b: 210 }} data={blTop} peaks={blTopPeaks} color={BLACK} grey yLabelX={43} />
      <Chromatogram g={{ l: 76, r: 464, t: 222, b: 362 }} data={blBot} peaks={blBotPeaks} color={RED} bottomAxis timeTitle yLabelX={43} />
      <Chromatogram g={{ l: 508, r: 895, t: 69, b: 210 }} data={bcTop} peaks={bcTopPeaks} color={BLACK} grey yLabelX={474} note={bcTopNote} />
      <Chromatogram g={{ l: 508, r: 895, t: 222, b: 362 }} data={bcBot} peaks={bcBotPeaks} color={RED} bottomAxis timeTitle yLabelX={474} note={bcBotNote} />
      {/* row 2 */}
      <Chromatogram g={{ l: 75, r: 450, t: 458, b: 598 }} data={h81Top} peaks={h81TopPeaks} color={BLACK} yLabelX={42} rightLabel note={h81TopNote} />
      <Chromatogram g={{ l: 75, r: 450, t: 611, b: 751 }} data={h81Bot} peaks={h81BotPeaks} color={RED} bottomAxis timeTitle yLabelX={42} rightLabel note={h81BotNote} />
      <Chromatogram g={{ l: 497, r: 873, t: 458, b: 598 }} data={h82Top} peaks={h82TopPeaks} color={BLACK} note={h82TopNote} />
      <Chromatogram g={{ l: 497, r: 873, t: 611, b: 751 }} data={h82Bot} peaks={h82BotPeaks} color={RED} bottomAxis timeTitle note={h82BotNote} />
      {/* row 3 */}
      <Chromatogram g={{ l: 82, r: 459, t: 852, b: 992 }} data={adoTop} peaks={adoTopPeaks} color={BLACK} yLabelX={50} note={adoTopNote} />
      <Chromatogram g={{ l: 82, r: 459, t: 1004, b: 1145 }} data={adoBot} peaks={adoBotPeaks} color={RED} bottomAxis yLabelX={50} note={adoBotNote} />
      <Chromatogram g={{ l: 512, r: 887, t: 852, b: 992 }} data={h84Top} peaks={h84TopPeaks} color={BLACK} yLabelX={478} note={h84TopNote} />
      <Chromatogram g={{ l: 512, r: 887, t: 1004, b: 1145 }} data={h84Bot} peaks={h84BotPeaks} color={RED} bottomAxis yLabelX={478} note={h84BotNote} />

      <Badge text="BL medium" x={242} y={27} w={206} h={36} />
      <Badge text="BL medium +  Baicalin" x={638} y={27} w={239} h={36} />
      <Badge text="longumHY81+Baicalin" x={213} y={421} w={230} h={37} />
      <Badge text="longumHY82+Baicalin" x={657} y={421} w={230} h={37} />
      <Badge text="adolescentis+Baicalin" x={227} y={815} w={231} h={37} />
      <Badge text="longumHY84+Baicalin" x={657} y={815} w={230} h={37} />
    </div>
  )
}
